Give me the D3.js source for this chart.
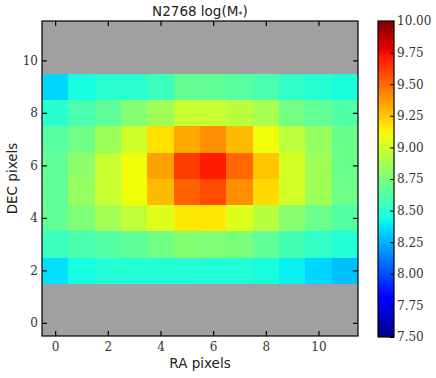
<!DOCTYPE html>
<html><head><meta charset="utf-8">
<script src="https://cdn.jsdelivr.net/npm/d3@7"></script>
<style>body{margin:0;background:#fff}svg{display:block}</style>
</head><body>
<script>
// Data: rows are DEC pixel (0..11), columns are RA pixel (0..11); null = masked (gray)
const raPixels = [0,1,2,3,4,5,6,7,8,9,10,11];
const decPixels = [0,1,2,3,4,5,6,7,8,9,10,11];
const row0 = [null,null,null,null,null,null,null,null,null,null,null,null];
const row1 = [null,null,null,null,null,null,null,null,null,null,null,null];
const row2 = [8.36,8.44,8.48,8.48,8.48,8.48,8.47,8.47,8.45,8.40,8.34,8.28];
const row3 = [8.55,8.60,8.63,8.66,8.72,8.78,8.76,8.75,8.67,8.58,8.52,8.48];
const row4 = [8.67,8.76,8.87,8.96,9.05,9.16,9.16,9.05,8.93,8.79,8.70,8.62];
const row5 = [8.67,8.83,8.98,9.10,9.28,9.52,9.58,9.40,9.20,9.01,8.86,8.71];
const row6 = [8.67,8.80,8.98,9.10,9.35,9.62,9.70,9.50,9.25,9.02,8.86,8.70];
const row7 = [8.64,8.72,8.85,9.00,9.18,9.33,9.40,9.28,9.10,8.95,8.83,8.70];
const row8 = [8.50,8.60,8.66,8.77,8.86,8.98,8.98,8.94,8.88,8.73,8.67,8.62];
const row9 = [8.34,8.44,8.50,8.50,8.55,8.68,8.67,8.64,8.60,8.52,8.49,8.45];
const row10 = [null,null,null,null,null,null,null,null,null,null,null,null];
const row11 = [null,null,null,null,null,null,null,null,null,null,null,null];
const rows = [row0,row1,row2,row3,row4,row5,row6,row7,row8,row9,row10,row11];
const xTicks = [0,2,4,6,8,10];
const yTicks = [0,2,4,6,8,10];
const cbTicks = [7.50,7.75,8.00,8.25,8.50,8.75,9.00,9.25,9.50,9.75,10.00];
const vmin = 7.5, vmax = 10.0;
const titleText = "N2768 log(M";

function seg(t, pts){
  if (t <= pts[0][0]) return pts[0][1];
  for (let i=1;i<pts.length;i++){
    if (t <= pts[i][0]){
      const [x0,y0]=pts[i-1],[x1,y1]=pts[i];
      return y0 + (y1-y0)*(t-x0)/(x1-x0);
    }
  }
  return pts[pts.length-1][1];
}
function jet(t){
  t = Math.max(0, Math.min(1, t));
  const r = seg(t, [[0,0],[0.35,0],[0.66,1],[0.89,1],[1,0.5]]);
  const g = seg(t, [[0,0],[0.125,0],[0.375,1],[0.64,1],[0.91,0],[1,0]]);
  const b = seg(t, [[0,0.5],[0.11,1],[0.34,1],[0.65,0],[1,0]]);
  return d3.rgb(Math.round(r*255), Math.round(g*255), Math.round(b*255)).formatHex();
}

const W = 436, H = 378;
const svg = d3.select("body").append("svg").attr("width", W).attr("height", H);
const m = {l:42, r:358, t:21, b:336};
const x = d3.scaleLinear().domain([-0.5, 11.5]).range([m.l, m.r]);
const y = d3.scaleLinear().domain([-0.5, 11.5]).range([m.b, m.t]);
const color = v => jet((v - vmin) / (vmax - vmin));

const cells = [];
rows.forEach((r, j) => r.forEach((v, i) => cells.push({i: raPixels[i], j: decPixels[j], v})));
svg.append("g").selectAll("rect").data(cells).join("rect")
  .attr("x", d => x(d.i - 0.5))
  .attr("y", d => y(d.j + 0.5))
  .attr("width", d => x(d.i + 0.5) - x(d.i - 0.5) + 0.3)
  .attr("height", d => y(d.j - 0.5) - y(d.j + 0.5) + 0.3)
  .attr("fill", d => d.v == null ? "#a0a0a0" : color(d.v))
  .attr("shape-rendering", "crispEdges");

const serif = "'DejaVu Serif', serif";
const sans = "'DejaVu Sans', sans-serif";
const tl = 5;

// axes
const gBottom = svg.append("g").attr("transform", `translate(0,${m.b})`)
  .call(d3.axisBottom(x).tickValues(xTicks).tickSizeInner(-tl).tickSizeOuter(0).tickPadding(6).tickFormat(d3.format("d")));
const gTop = svg.append("g").attr("transform", `translate(0,${m.t})`)
  .call(d3.axisTop(x).tickValues(xTicks).tickSizeInner(-tl).tickSizeOuter(0).tickFormat(""));
const gLeft = svg.append("g").attr("transform", `translate(${m.l},0)`)
  .call(d3.axisLeft(y).tickValues(yTicks).tickSizeInner(-tl).tickSizeOuter(0).tickPadding(4).tickFormat(d3.format("d")));
const gRight = svg.append("g").attr("transform", `translate(${m.r},0)`)
  .call(d3.axisRight(y).tickValues(yTicks).tickSizeInner(-tl).tickSizeOuter(0).tickFormat(""));
[gBottom, gTop, gLeft, gRight].forEach(g => {
  g.select(".domain").remove();
  g.selectAll(".tick line").attr("stroke", "#000").attr("stroke-width", 1.2);
  g.selectAll("text").attr("font-family", serif).attr("font-size", 12).attr("fill", "#333");
});
svg.append("rect").attr("x", m.l).attr("y", m.t).attr("width", m.r - m.l).attr("height", m.b - m.t)
  .attr("fill", "none").attr("stroke", "#000").attr("stroke-width", 1.2);

// labels
svg.append("text").attr("x", (m.l + m.r)/2).attr("y", 368).attr("text-anchor", "middle")
  .attr("font-family", sans).attr("font-size", 13.5).attr("fill", "#222").text("RA pixels");
svg.append("text").attr("transform", `translate(17,${(m.t + m.b)/2}) rotate(-90)`).attr("text-anchor", "middle")
  .attr("font-family", sans).attr("font-size", 13.5).attr("fill", "#222").text("DEC pixels");
const title = svg.append("text").attr("x", (m.l + m.r)/2).attr("y", 16).attr("text-anchor", "middle")
  .attr("font-family", sans).attr("font-size", 13.5).attr("fill", "#222");
title.append("tspan").text(titleText);
title.append("tspan").attr("font-size", 8.5).attr("dy", 2).text("*");
title.append("tspan").attr("dy", -2).text(")");

// colorbar
const cb = {x0: 378, x1: 394, t: 21, b: 337};
const cy = d3.scaleLinear().domain([vmin, vmax]).range([cb.b, cb.t]);
const defs = svg.append("defs");
const grad = defs.append("linearGradient").attr("id", "jetgrad").attr("x1", 0).attr("y1", 1).attr("x2", 0).attr("y2", 0);
d3.range(0, 1.0001, 0.01).forEach(t => grad.append("stop").attr("offset", t).attr("stop-color", jet(t)));
svg.append("rect").attr("x", cb.x0).attr("y", cb.t).attr("width", cb.x1 - cb.x0).attr("height", cb.b - cb.t)
  .attr("fill", "url(#jetgrad)");
const cbAxis = svg.append("g").attr("transform", `translate(${cb.x1},0)`)
  .call(d3.axisRight(cy).tickValues(cbTicks).tickSizeInner(-4).tickSizeOuter(0).tickPadding(3).tickFormat(d3.format(".2f")));
cbAxis.select(".domain").remove();
cbAxis.selectAll(".tick line").attr("stroke", "#000").attr("stroke-width", 1);
cbAxis.selectAll("text").attr("font-family", serif).attr("font-size", 12).attr("fill", "#333");
svg.append("rect").attr("x", cb.x0).attr("y", cb.t).attr("width", cb.x1 - cb.x0).attr("height", cb.b - cb.t)
  .attr("fill", "none").attr("stroke", "#000").attr("stroke-width", 1.2);
</script>
</body></html>
